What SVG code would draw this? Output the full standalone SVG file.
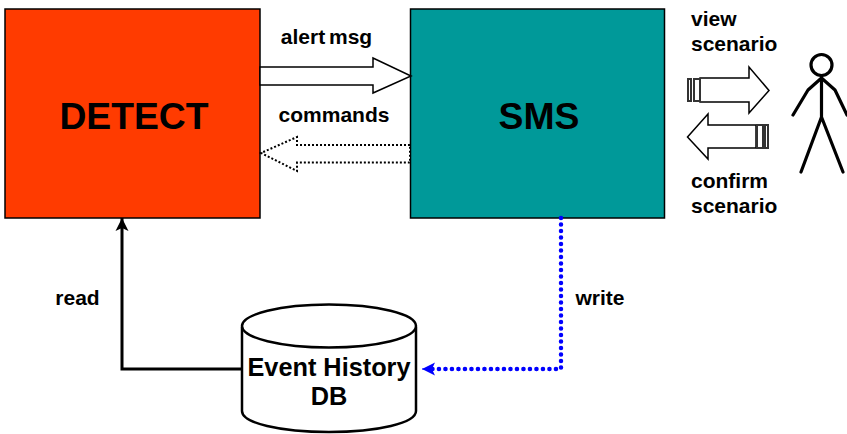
<svg xmlns="http://www.w3.org/2000/svg" width="847" height="434" viewBox="0 0 847 434">
<style>
text{font-family:"Liberation Sans",Arial,sans-serif;font-weight:bold;fill:#000;text-anchor:middle}
.l{font-size:21px}.t{font-size:37.300px}.m{font-size:25.300px}
.s{text-anchor:start}
.box{stroke:#000;stroke-width:1.5}
.ar{fill:#fff;stroke:#000;stroke-width:1.5}
.dot{fill:#fff;stroke:#000;stroke-width:2;stroke-dasharray:2 2}
.bar{fill:#fff;stroke:#333;stroke-width:2}
</style>
<defs>
<marker id="ab" markerUnits="userSpaceOnUse" markerWidth="16" markerHeight="16" refX="13" refY="8" orient="auto"><path d="M0 1.500L13 8L0 14.500L3 8Z" fill="#00f"/></marker>
<marker id="ak" markerUnits="userSpaceOnUse" markerWidth="16" markerHeight="16" refX="13" refY="8" orient="auto"><path d="M0 1.500L13 8L0 14.500L3 8Z" fill="#000"/></marker>
</defs>
<g id="detect"><rect class="box" x="5" y="9" width="255" height="209" fill="#ff3b00"/><text class="t" x="134" y="129">DETECT</text></g>
<g id="sms"><rect class="box" x="410.500" y="9" width="254" height="209" fill="#009999"/><text class="t" x="539" y="129">SMS</text></g>
<g id="db">
<path d="M242 327V411C242 423 280 432 329 432C378 432 416 423 416 411V327" fill="#fff" stroke="#000" stroke-width="2.500"/>
<ellipse cx="329" cy="326" rx="87" ry="21.500" fill="#fff" stroke="#000" stroke-width="2.500"/>
<text class="m" x="329" y="376">Event History</text><text class="m" x="329" y="405">DB</text>
</g>
<g id="actor" fill="none" stroke="#000" stroke-width="3.200" stroke-linecap="round" stroke-linejoin="round">
<circle cx="821.500" cy="65" r="10.500"/><path d="M821.500 76V117M821.500 78L808 90L793 115M821.500 78L835 90L847 115M821.500 117L801 172M821.500 117L843 172"/>
</g>
<g id="connectors">
<path class="ar" d="M260 67H373V58L411 76L373 93V85H260Z"/>
<path class="dot" d="M410 145H297V137L261 153L297 171V162.500H410Z"/>
<path d="M241 369H122V218" fill="none" stroke="#000" stroke-width="3" marker-end="url(#ak)"/>
<path d="M561 218V369H428" fill="none" stroke="#00f" stroke-width="4.500" stroke-linecap="round" stroke-dasharray="0.100 6.400"/>
<path d="M434 369H422" fill="none" stroke="#00f" stroke-width="1" marker-end="url(#ab)"/>
<path class="ar" d="M700 78H749V67L769 90.500L749 113V102H700Z"/>
<rect class="bar" x="688" y="79" width="3" height="22"/><rect class="bar" x="694" y="79" width="6" height="22"/>
<path class="ar" d="M756 125H708V114L687.500 137L708 159V148H756Z"/>
<rect class="bar" x="757" y="125" width="6" height="23"/><rect class="bar" x="765" y="125" width="3" height="23"/>
</g>
<g id="labels">
<text class="l" x="326.500" y="44" style="word-spacing:-2px">alert msg</text>
<text class="l" x="334" y="122">commands</text>
<text class="l" x="77.500" y="305">read</text>
<text class="l" x="600" y="305">write</text>
<text class="l s" x="691" y="26">view</text>
<text class="l s" x="691" y="51">scenario</text>
<text class="l s" x="691" y="188">confirm</text>
<text class="l s" x="691" y="213">scenario</text>
</g>
</svg>
